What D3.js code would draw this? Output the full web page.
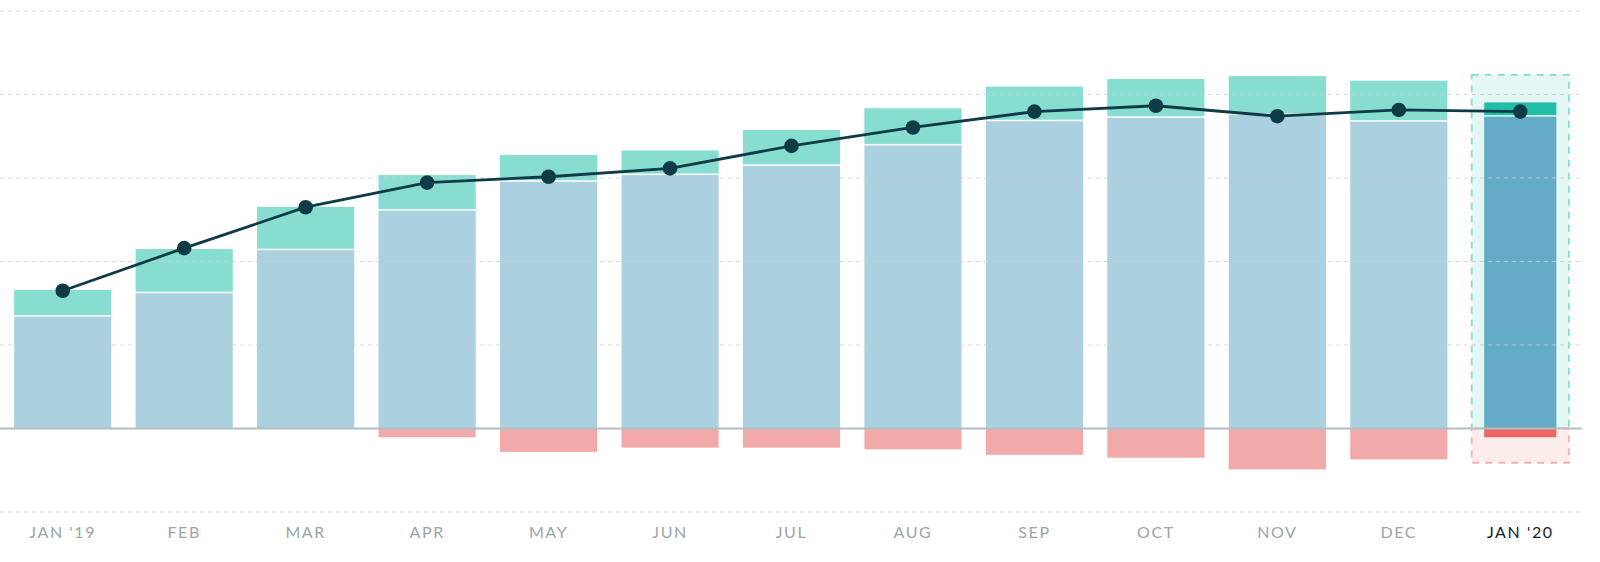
<!DOCTYPE html>
<html>
<head>
<meta charset="utf-8">
<script src="https://cdn.jsdelivr.net/npm/d3@7"></script>
<style>
  html, body { margin: 0; padding: 0; background: #fff; }
  svg { display: block; }
</style>
</head>
<body>
<div id="chart"></div>
<script>
const months = ["JAN '19", "FEB", "MAR", "APR", "MAY", "JUN", "JUL", "AUG", "SEP", "OCT", "NOV", "DEC", "JAN '20"];
const base = [26.8, 32.4, 42.7, 52.2, 59.1, 60.7, 62.9, 67.8, 73.6, 74.4, 75.1, 73.5, 74.7];
const added = [6.4, 10.6, 10.4, 8.5, 6.4, 5.9, 8.6, 8.9, 8.3, 9.3, 9.3, 9.8, 3.4];
const churned = [0, 0, 0, -2.1, -5.6, -4.6, -4.6, -5.0, -6.3, -7.0, -9.8, -7.4, -2.1];
const net = [33.0, 43.2, 53.0, 58.9, 60.3, 62.3, 67.7, 72.1, 75.9, 77.3, 74.8, 76.3, 75.9];
// projection for the current month
const projectedTop = 84.7;
const projectedBottom = -8.2;
const yTicks = [-20, 0, 20, 40, 60, 80, 100];

const width = 1600, height = 562;
const margin = { top: 11, bottom: 50, left: 2, right: 19 };

const svg = d3.select("#chart").append("svg")
    .attr("width", width)
    .attr("height", height);

const x = d3.scaleBand()
    .domain(months)
    .range([margin.left, width - margin.right])
    .paddingInner(0.2)
    .paddingOuter(0.1);

const y = d3.scaleLinear()
    .domain([-20, 100])
    .range([height - margin.bottom, margin.top]);

const last = months.length - 1;
const data = months.map((m, i) => ({ m, i, base: base[i], added: added[i], churned: churned[i], net: net[i] }));
const past = data.filter(d => d.i < last);
const cur = data[last];

// highlight boxes for the current month
const bw = x.bandwidth();
svg.append("rect")
    .attr("x", x(cur.m)).attr("width", bw)
    .attr("y", y(projectedTop)).attr("height", y(0) - y(projectedTop))
    .attr("fill", "#e5f7f4")
    .attr("stroke", "#86ddd0").attr("stroke-width", 1.8).attr("stroke-dasharray", "7,6");
svg.append("rect")
    .attr("x", x(cur.m)).attr("width", bw)
    .attr("y", y(0)).attr("height", y(projectedBottom) - y(0))
    .attr("fill", "#fcecec")
    .attr("stroke", "#f3b1b1").attr("stroke-width", 1.8).attr("stroke-dasharray", "7,6");

// past bars
svg.selectAll(".base").data(past).join("rect")
    .attr("x", d => x(d.m)).attr("width", bw)
    .attr("y", d => y(d.base)).attr("height", d => y(0) - y(d.base))
    .attr("fill", "#abd1e0");
svg.selectAll(".added").data(past).join("rect")
    .attr("x", d => x(d.m)).attr("width", bw)
    .attr("y", d => y(d.base + d.added)).attr("height", d => y(d.base) - y(d.base + d.added) - 1.5)
    .attr("fill", "#86ddd0");
svg.selectAll(".churn").data(past).join("rect")
    .attr("x", d => x(d.m)).attr("width", bw)
    .attr("y", y(0)).attr("height", d => y(d.churned) - y(0))
    .attr("fill", "#f2a9aa");

// current month bar (narrower, stronger colours)
const inset = 12.5;
const cx = x(cur.m) + inset, cw = bw - 2 * inset;
svg.append("rect")
    .attr("x", cx).attr("width", cw)
    .attr("y", y(cur.base)).attr("height", y(0) - y(cur.base))
    .attr("fill", "#64abc7");
svg.append("rect")
    .attr("x", cx).attr("width", cw)
    .attr("y", y(cur.base + cur.added)).attr("height", y(cur.base) - y(cur.base + cur.added) - 1.5)
    .attr("fill", "#22bfa8");
svg.append("rect")
    .attr("x", cx).attr("width", cw)
    .attr("y", y(0)).attr("height", y(cur.churned) - y(0))
    .attr("fill", "#eb6565");

// gridlines on top of the bars
svg.append("g").selectAll("line").data(yTicks.filter(t => t !== 0)).join("line")
    .attr("x1", 0).attr("x2", width - margin.right + 1)
    .attr("y1", d => y(d)).attr("y2", d => y(d))
    .attr("stroke", "#c9ced1").attr("stroke-opacity", 0.75)
    .attr("stroke-width", 1.2).attr("stroke-dasharray", "4,4");

// zero line
svg.append("line")
    .attr("x1", 0).attr("x2", width - margin.right + 1)
    .attr("y1", y(0)).attr("y2", y(0))
    .attr("stroke", "#b3bec1").attr("stroke-width", 2);

// net line
const line = d3.line()
    .x(d => x(d.m) + bw / 2)
    .y(d => y(d.net));
svg.append("path")
    .datum(data)
    .attr("d", line)
    .attr("fill", "none")
    .attr("stroke", "#0f3b47")
    .attr("stroke-width", 2.8);
svg.selectAll(".dot").data(data).join("circle")
    .attr("cx", d => x(d.m) + bw / 2)
    .attr("cy", d => y(d.net))
    .attr("r", 7.3)
    .attr("fill", "#0f3b47");

// x labels
const xAxis = svg.append("g")
    .attr("transform", `translate(0,${height - margin.bottom})`)
    .call(d3.axisBottom(x).tickSize(0).tickPadding(15));
xAxis.select(".domain").remove();
xAxis.selectAll("text")
    .attr("font-family", "Lato, 'Open Sans', sans-serif")
    .attr("font-size", 16)
    .attr("letter-spacing", 1.6)
    .attr("fill", (d, i) => i === last ? "#14232c" : "#9ca5aa");
</script>
</body>
</html>
